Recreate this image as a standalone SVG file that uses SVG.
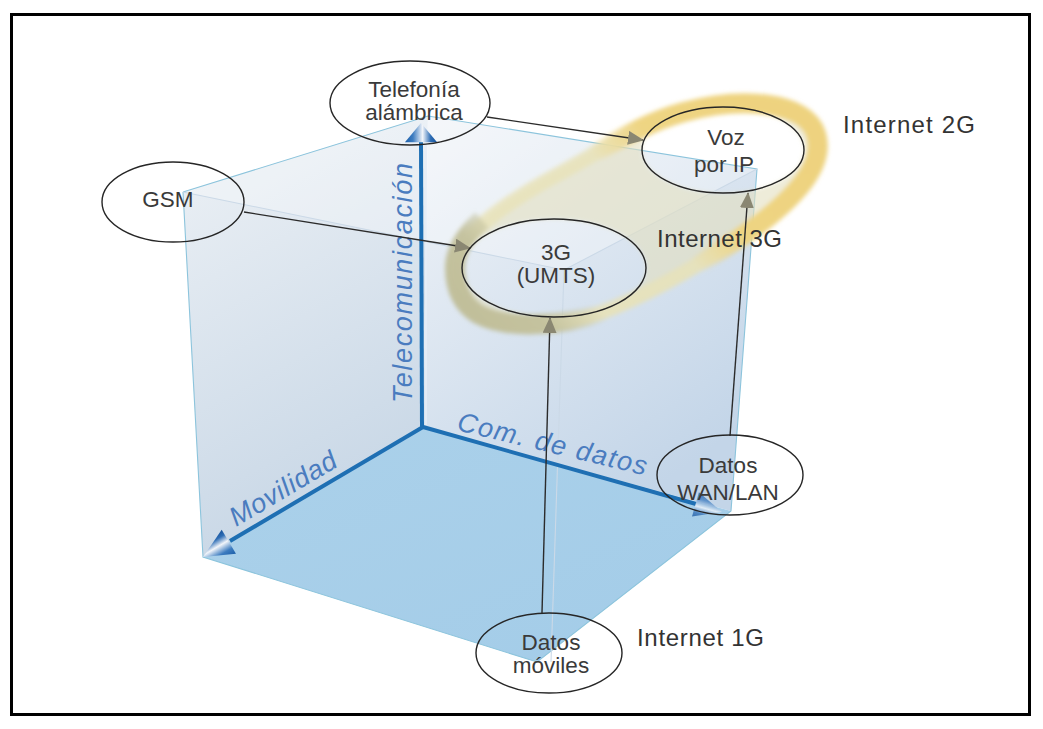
<svg xmlns="http://www.w3.org/2000/svg" width="1043" height="729" viewBox="0 0 1043 729">
  <style>
    .node ellipse { fill: none; stroke: #262626; stroke-width: 1.4; }
    .node text { font-family: "Liberation Sans", Arial, sans-serif; font-size: 22.5px; fill: #3a3a3a; text-anchor: middle; }
    .axis { stroke: #1e6fb3; stroke-width: 4; fill: none; }
    .axlabel { font-family: "Liberation Sans", Arial, sans-serif; font-style: italic; font-size: 27px; fill: #4a7cbf; }
    .edge { stroke: #8cc4dc; stroke-width: 1.1; fill: none; }
    .faint { stroke: #cbd9e7; stroke-width: 1.1; fill: none; }
    .conn line { stroke: #2b2b2b; stroke-width: 1.4; marker-end: url(#arr); }
    .gen { font-family: "Liberation Sans", Arial, sans-serif; font-size: 24px; fill: #333333; }
  </style>
  <defs>
    <linearGradient id="wallLeft" x1="0" y1="0" x2="0.3" y2="1">
      <stop offset="0" stop-color="#eef2f6"/>
      <stop offset="1" stop-color="#c8d7e6"/>
    </linearGradient>
    <linearGradient id="wallRight" x1="0" y1="0" x2="0.6" y2="1">
      <stop offset="0" stop-color="#f1f4f8"/>
      <stop offset="1" stop-color="#c3d5e8"/>
    </linearGradient>
    <linearGradient id="floor" x1="0" y1="0" x2="1" y2="1">
      <stop offset="0" stop-color="#abd1ea"/>
      <stop offset="1" stop-color="#a3cce8"/>
    </linearGradient>
    <!-- khaki shading round the lower-left end of the band -->
    <linearGradient id="khaki" gradientUnits="userSpaceOnUse" x1="600" y1="200" x2="470" y2="320">
      <stop offset="0.42" stop-color="#c3c19d" stop-opacity="0"/>
      <stop offset="0.7" stop-color="#c3c19d" stop-opacity="0.95"/>
      <stop offset="1" stop-color="#bfbd98" stop-opacity="0.95"/>
    </linearGradient>
    <!-- yellow shading round the upper-right end of the band -->
    <linearGradient id="yellow" gradientUnits="userSpaceOnUse" x1="600" y1="260" x2="760" y2="110">
      <stop offset="0.3" stop-color="#efd480" stop-opacity="0"/>
      <stop offset="0.55" stop-color="#efd480" stop-opacity="0.95"/>
      <stop offset="1" stop-color="#eed27c" stop-opacity="0.95"/>
    </linearGradient>
    <filter id="soft" x="-10%" y="-20%" width="120%" height="140%">
      <feGaussianBlur stdDeviation="2.2"/>
    </filter>
    <linearGradient id="cone" x1="0" y1="0" x2="0" y2="1">
      <stop offset="0" stop-color="#1b5ea8"/>
      <stop offset="0.25" stop-color="#3d7cc0"/>
      <stop offset="0.55" stop-color="#f2f5fa"/>
      <stop offset="0.8" stop-color="#2e6db5"/>
      <stop offset="1" stop-color="#16529a"/>
    </linearGradient>
    <polygon id="coneShape" points="0,0 -24,-14 -24,14" fill="url(#cone)"/>
    <marker id="arr" viewBox="0 0 16 14" refX="15" refY="7" markerWidth="16" markerHeight="14" markerUnits="userSpaceOnUse" orient="auto">
      <path d="M0,0 L16,7 L0,14 Z" fill="#8a8772"/>
    </marker>
  </defs>

  <!-- page -->
  <rect x="0" y="0" width="1043" height="729" fill="#ffffff"/>
  <rect x="11.5" y="14.5" width="1018" height="700" fill="#ffffff" stroke="#000000" stroke-width="3"/>

  <!-- cube faces -->
  <g id="cube">
    <polygon points="423,427 428,116 183,192 203,557" fill="url(#wallLeft)"/>
    <polygon points="423,427 428,116 757,169 731,511" fill="url(#wallRight)"/>
    <polygon points="423,427 203,557 537,662 731,511" fill="url(#floor)"/>
    <polygon points="183,192 428,116 757,169 564,270" fill="#ffffff" opacity="0.3"/>
    <polyline class="edge" points="183,192 428,116 757,169 731,511 537,662 203,557 183,192"/>
    <polyline class="faint" points="183,192 564,270 757,169"/>
    <line class="faint" x1="564" y1="270" x2="551" y2="662"/>
    <line x1="426" y1="150" x2="426" y2="425" stroke="#e6eef7" stroke-width="1.5"/>
  </g>

  <!-- Internet 3G / 2G band -->
  <g id="band" filter="url(#soft)">
    <path fill="#e3dfbf" opacity="0.6" fill-rule="evenodd"
          d="M452,268 C452,238 498,202 560,169 C608,143 638,118 684,106 C746,90 816,98 826,134 C836,170 798,206 758,234 C716,262 658,298 602,319 C560,334 502,336 474,318 C458,307 452,290 452,268 Z
             M462,268 A92,49 0 1 0 646,268 A92,49 0 1 0 462,268 Z
             M642,150 A81,43 0 1 0 804,150 A81,43 0 1 0 642,150 Z"/>
    <path fill="none" stroke="#e8e1b6" stroke-width="15" opacity="0.75"
          d="M455,268 C455,240 500,205 562,172 C610,146 640,124 684,112 C744,96 806,102 816,134 C826,166 792,200 754,228 C714,256 656,292 600,313 C560,327 505,329 478,314 C462,304 455,288 455,268 Z"/>
    <path fill="none" stroke="url(#khaki)" stroke-width="20"
          d="M620,306 C600,313 600,313 600,313 C560,327 505,329 478,314 C462,304 455,288 455,268 C455,250 465,235 482,220"/>
    <path fill="none" stroke="url(#yellow)" stroke-width="20"
          d="M562,172 C610,146 640,124 684,112 C744,96 806,102 816,134 C826,166 792,200 754,228 C736,241 716,254 694,267"/>
  </g>

  <!-- axes -->
  <g id="axes">
    <line class="axis" x1="422" y1="427" x2="421" y2="141"/>
    <line class="axis" x1="423" y1="427" x2="230" y2="541"/>
    <line class="axis" x1="423" y1="427" x2="696" y2="504"/>
    <use href="#coneShape" transform="translate(421,123) rotate(-90) scale(0.8,1.15)"/>
    <use href="#coneShape" transform="translate(203,557) rotate(149.4) scale(1.25,1)"/>
    <use href="#coneShape" opacity="0.75" transform="translate(722,512) rotate(15.9) scale(1.15,0.9)"/>
    <text class="axlabel" transform="translate(412,403) rotate(-90)" textLength="240">Telecomunicación</text>
    <text class="axlabel" transform="translate(236,527) rotate(-30.6)" textLength="120">Movilidad</text>
    <text class="axlabel" transform="translate(456,430) rotate(13.5)" textLength="194">Com. de datos</text>
  </g>

  <!-- connectors -->
  <g id="connectors" class="conn">
    <line x1="487" y1="117" x2="643" y2="140"/>
    <line x1="244" y1="212" x2="470" y2="248"/>
    <line x1="542" y1="613" x2="550" y2="318"/>
    <line x1="730" y1="436" x2="748" y2="193"/>
  </g>

  <!-- nodes -->
  <g id="telefonia" class="node">
    <ellipse cx="410" cy="103" rx="80" ry="42"/>
    <text x="414" y="97">Telefonía</text>
    <text x="414" y="120">alámbrica</text>
  </g>
  <g id="gsm" class="node">
    <ellipse cx="173" cy="202" rx="71" ry="40"/>
    <text x="168" y="207">GSM</text>
  </g>
  <g id="umts" class="node">
    <ellipse cx="554" cy="268" rx="92" ry="49"/>
    <text x="556" y="260">3G</text>
    <text x="556" y="283">(UMTS)</text>
  </g>
  <g id="voip" class="node">
    <ellipse cx="723" cy="150" rx="81" ry="43"/>
    <text x="726" y="145">Voz</text>
    <text x="724" y="172">por IP</text>
  </g>
  <g id="wanlan" class="node">
    <ellipse cx="730" cy="475" rx="73" ry="40"/>
    <text x="728" y="473">Datos</text>
    <text x="728" y="500">WAN/LAN</text>
  </g>
  <g id="moviles" class="node">
    <ellipse cx="549" cy="653" rx="73" ry="40"/>
    <text x="551" y="650">Datos</text>
    <text x="551" y="673">móviles</text>
  </g>

  <!-- generation labels -->
  <g id="labels">
    <text class="gen" x="843" y="133" textLength="132">Internet 2G</text>
    <text class="gen" x="657" y="247" textLength="125">Internet 3G</text>
    <text class="gen" x="637" y="646" textLength="127">Internet 1G</text>
  </g>
</svg>
